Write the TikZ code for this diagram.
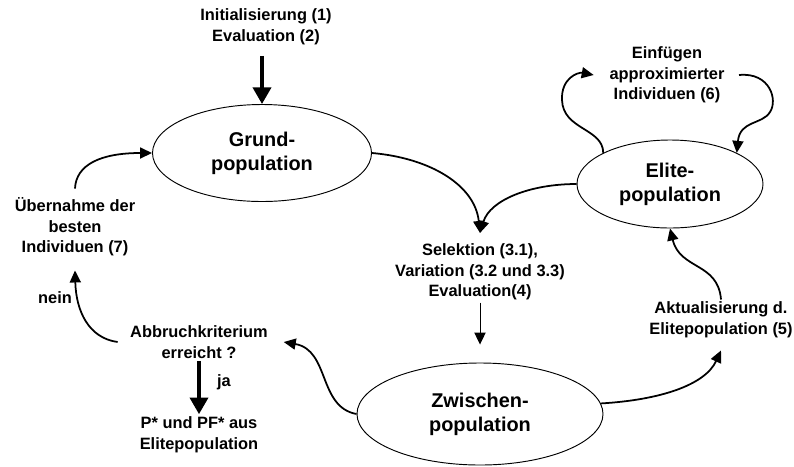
\documentclass[tikz,border=0pt]{standalone}
\usepackage{fontspec}
\setmainfont{Liberation Sans}
\usepackage{tikz}
\usetikzlibrary{arrows.meta,positioning,shapes.geometric}

\begin{document}
\begin{tikzpicture}[
  x=0.03cm,y=-0.03cm,
  pop/.style={draw,ellipse,line width=0.8pt,inner sep=0pt,align=center,font=\bfseries\fontsize{17}{20.5}\selectfont},
  lbl/.style={align=center,inner sep=2pt,font=\bfseries\fontsize{14}{17.5}\selectfont},
  arrow/.style={-{Triangle[length=3.6mm,width=3.3mm]},line width=1.5pt},
  thinarrow/.style={-{Triangle[length=3.6mm,width=3.4mm]},line width=0.8pt},
  bigarrow/.style={-{Triangle[length=5mm,width=5.4mm]},line width=3.2pt},
]
\useasboundingbox (0,0) rectangle (794,466);
% populations
\node[pop,minimum width=6.57cm,minimum height=2.91cm] (grund) at (262,153) {Grund-\\population};
\node[pop,minimum width=5.58cm,minimum height=2.64cm] (elite) at (670,184) {Elite-\\population};
\node[pop,minimum width=7.38cm,minimum height=3.06cm] (zwischen) at (480,414) {Zwischen-\\population};
% steps
\node[lbl] (init) at (266,27) {Initialisierung (1)\\Evaluation (2)};
\node[lbl] (einf) at (667,75) {Einfügen\\approximierter\\Individuen (6)};
\node[lbl] (sel) at (480,272) {Selektion (3.1),\\Variation (3.2 und 3.3)\\Evaluation(4)};
\node[lbl] (akt) at (721,320) {Aktualisierung d.\\Elitepopulation (5)};
\node[lbl] (abbr) at (199,342) {Abbruchkriterium\\erreicht ?};
\node[lbl,below=1.6cm of abbr] (pstar) {P* und PF* aus\\Elitepopulation};
\node[lbl] (ueber) at (75,227) {Übernahme der\\besten\\Individuen (7)};
\node[lbl] (nein) at (55,298) {nein};
\node[lbl] (ja) at (224,382) {ja};

\draw[bigarrow] ([yshift=-0.25cm]init.south -| grund.north) -- (grund.north);
\draw[arrow] (grund.east) .. controls (430,158) and (475,185) .. ([yshift=0.25cm]sel.north);
\draw[arrow] (elite.west) .. controls (530,184) and (490,200) .. ([yshift=0.25cm]sel.north);
\draw[thinarrow,shorten >=0.54cm] (sel) -- (zwischen);
\draw[arrow] (zwischen.5) .. controls (660,400) and (705,385) .. ([yshift=-0.3cm]akt.south);
\draw[arrow] (akt.north) .. controls (718,262) and (680,270) .. (elite.south);
\draw[arrow] (elite.155) .. controls (603,128) and (563,130) .. (562,100) .. controls (561,78) and (578,72) .. ([xshift=-0.4cm]einf.west);
\draw[arrow] ([xshift=0.36cm]einf.east) .. controls (770,72) and (778,100) .. (770,112) .. controls (762,125) and (740,120) .. (elite.25);
\draw[arrow] (zwischen.west) .. controls (318,407) and (330,350) .. ([xshift=0.4cm]abbr.east);
\draw[arrow] ([xshift=-0.3cm]abbr.west) .. controls (88,338) and (76,310) .. ([yshift=-0.35cm]ueber.south);
\draw[arrow] ([yshift=0.2cm]ueber.north) .. controls (76,165) and (100,153) .. (grund.west);
\draw[bigarrow] (abbr) -- (pstar);
\end{tikzpicture}
\end{document}
